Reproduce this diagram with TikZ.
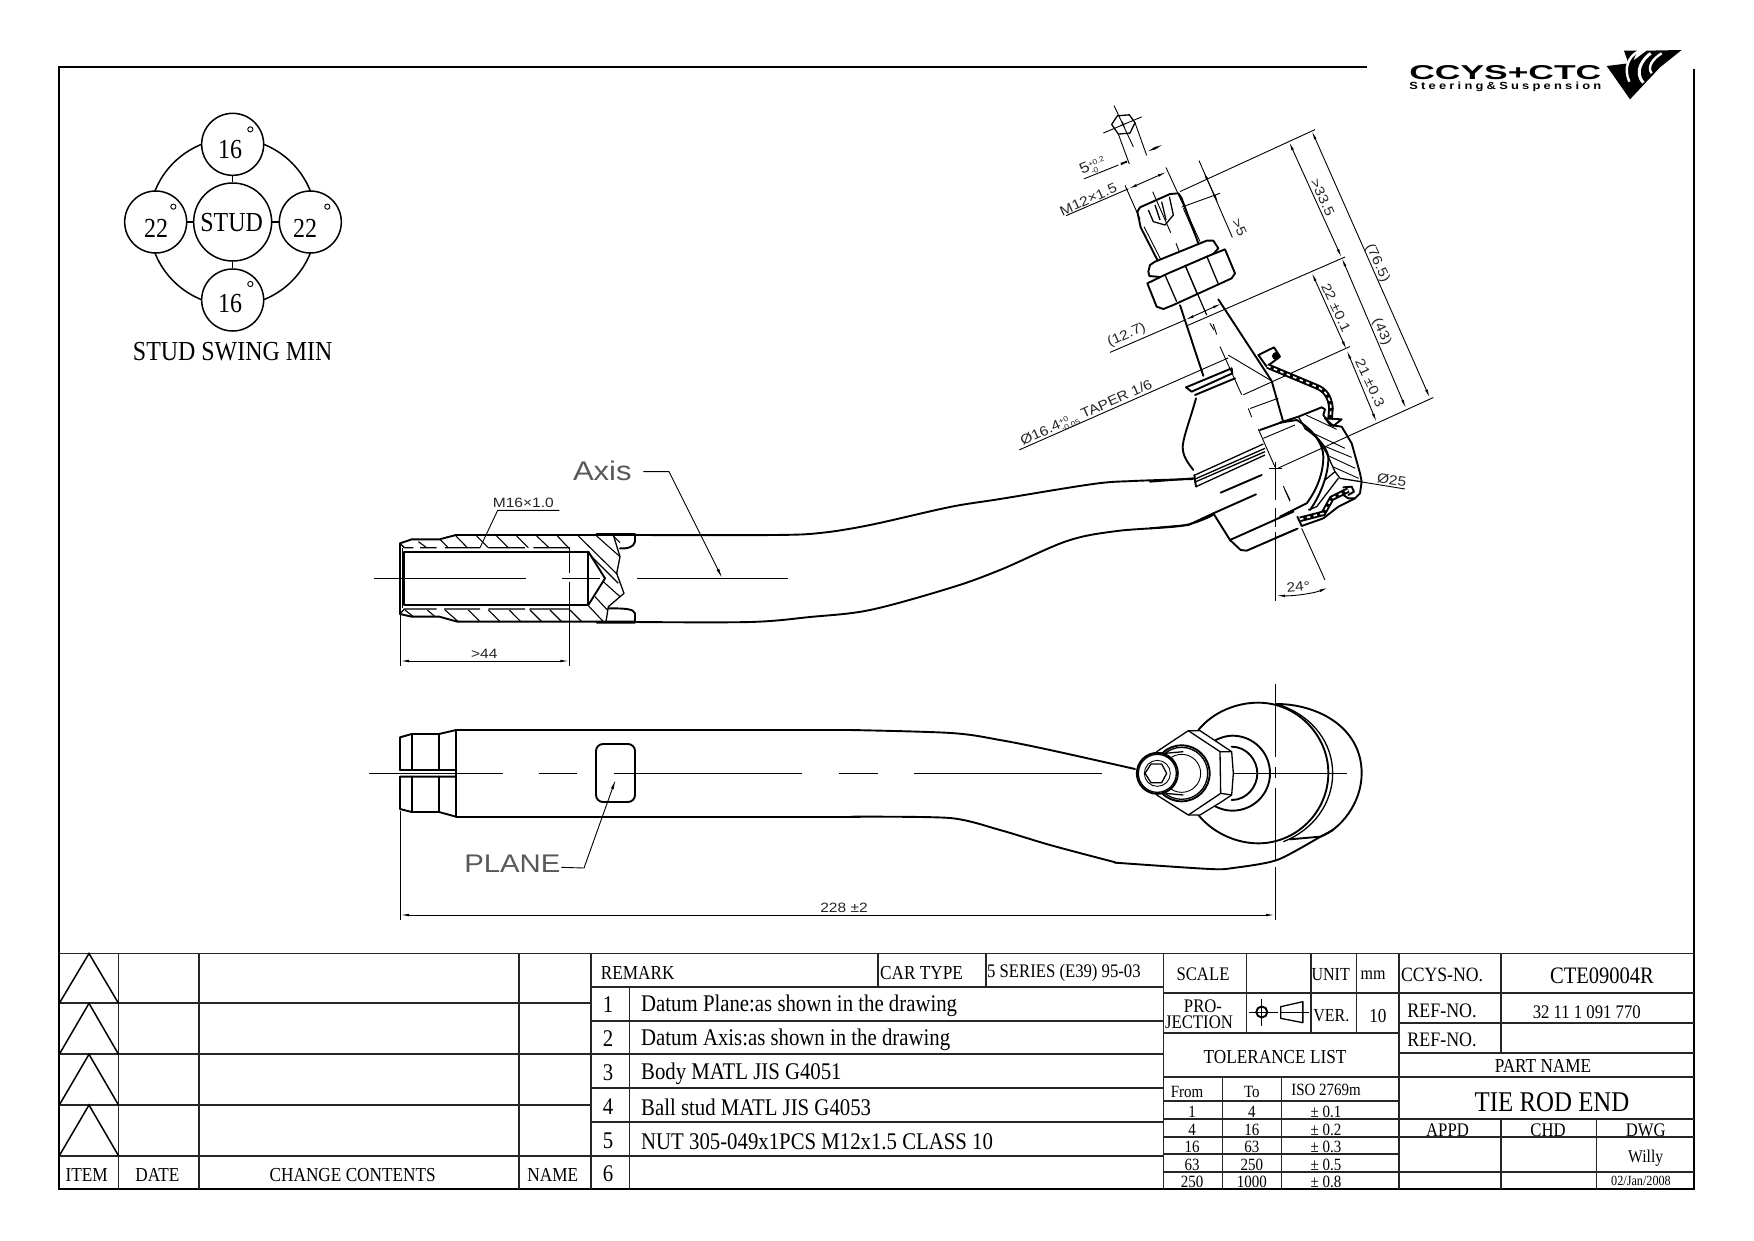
\documentclass[tikz,border=0pt]{standalone}
\usepackage{fontspec}
\usepackage{graphicx}
\setmainfont[FakeStretch=0.87]{Liberation Serif}
\newfontfamily\cad[FakeStretch=1.15]{Liberation Sans}
\newfontfamily\logofont[FakeStretch=1.2,LetterSpace=30]{Liberation Sans}
\usetikzlibrary{arrows.meta}
\newcommand{\tolstk}[2]{{\fontsize{7.5}{7.5}\selectfont\begin{tabular}[c]{@{}l@{}}#1\\#2\end{tabular}}}
\tikzset{
 thk/.style={line width=1.9pt,line join=round,line cap=round},
 mid/.style={line width=1.3pt,line join=round},
 thn/.style={line width=0.9pt},
 tbl/.style={line width=1.8pt,black!85},
 dim/.style={line width=0.9pt,arrows={Latex[length=9pt,width=2.6pt]-Latex[length=9pt,width=2.6pt]}},
 ldr/.style={line width=0.9pt,arrows={-Latex[length=10pt,width=3pt]}},
 lb/.style={inner sep=0pt,text=black!85,font=\cad\fontsize{13.5}{14}\selectfont},
 big/.style={inner sep=0pt,text=black!65,font=\cad\fontsize{27}{28}\selectfont},
 z1/.style={shift={(1000,90)},x=.33333pt,y=-.34435pt},
 z2/.style={shift={(370,440)},x=.33333pt,y=-.33333pt},
 z3/.style={shift={(360,690)},x=.33333pt,y=-.33333pt},
 z4/.style={shift={(1050,680)},x=.33333pt,y=-.33333pt},
 z7/.style={shift={(1160,950)},x=.35714pt,y=-.33333pt},
 z8/.style={shift={(1380,40)},x=.33333pt,y=-.33333pt},
 z9/.style={shift={(110,100)},x=.33333pt,y=-.33333pt},
 z10/.style={shift={(1150,340)},x=.33333pt,y=-.33333pt},
 zh/.style={shift={(1280,400)},x=.33333pt,y=-.33333pt},
 zs/.style={shift={(1120,170)},x=.33333pt,y=-.33333pt},
 ring/.style={draw,circle,line width=1.5pt,inner sep=0pt,fill=white},
 tx/.style={inner sep=0pt},
 fa/.style={tx,font=\fontsize{27.5}{28}\selectfont},
 fb/.style={tx,font=\fontsize{19.8}{20}\selectfont},
 fc/.style={tx,font=\fontsize{23.9}{24}\selectfont},
 fd/.style={tx,font=\fontsize{17.2}{18}\selectfont},
 fe/.style={tx,font=\fontsize{18.4}{19}\selectfont},
 ff/.style={tx,font=\fontsize{19.2}{20}\selectfont},
 stripes/.style={line width=1.6pt,white,dash pattern=on 3.5pt off 3.5pt},
}
\begin{document}
\begin{tikzpicture}[x=1pt,y=-1pt]
\useasboundingbox (0,0) rectangle (1754,1240);
% frame
\draw[line width=1.9pt] (1367,67) -- (59.3,67) -- (59.3,1189) -- (1694,1189) -- (1694,69);

% swing diagram
\begin{scope}[z9]
\node[ring,minimum size=167.3pt,fill=none] (outer) at (368,366) {};
\node[ring,minimum size=78pt] (stud) at (368,366) {};
\node[ring,minimum size=62pt] (ntop) at (368,133) {};
\node[ring,minimum size=62pt] (nbot) at (368,600) {};
\node[ring,minimum size=62pt] (nleft) at (137,366) {};
\node[ring,minimum size=62pt] (nright) at (601,366) {};
\draw[line width=1.5pt] (ntop) -- (stud);
\draw[line width=1.5pt] (nbot) -- (stud);
\draw[line width=1.5pt] (nleft) -- (stud);
\draw[line width=1.5pt] (nright) -- (stud);
\node[fa] (lstud) at (365,367) {STUD};
\node[fa] (l16a) at (360,150) {16};
\node[fa] (l16b) at (360,610) {16};
\node[fa] (l22a) at (138,385) {22};
\node[fa] (l22b) at (585,385) {22};
\foreach \p in {(421,88),(421,552),(190,320),(652,320)} \draw[line width=.9pt] \p circle (2.6pt);
\node[fa] (lswing) at (368,755) {STUD SWING MIN};
\end{scope}

% side view
\begin{scope}[z2]
\draw[thk] (795,285) -- (258,285) -- (208,298) -- (125,298) -- (90,310) -- (90,522) -- (125,530) -- (208,530) -- (262,545) -- (795,545);
\draw[thk] (680,282) -- (795,282) -- (795,305) .. controls (792,322) and (770,327) .. (750,325);
\draw[thk] (680,548) -- (795,548) -- (795,520) .. controls (790,507) and (770,505) .. (715,505);
\draw[mid] (730,285) -- (750,350) -- (740,400) -- (762,460) -- (715,500) -- (708,545);
\draw[thk] (103,335) rectangle (655,495);
\draw[thk] (655,335) -- (705,415) -- (655,495);
\draw[thn] (97,325) -- (97,505);
\draw[mid] (90,310) -- (103,323) -- (130,323) (150,323) -- (200,323) (225,323) -- (330,323) (355,323) -- (465,323) (490,323) -- (600,323);
\draw[mid] (90,522) -- (103,507) -- (200,507) (222,507) -- (330,507) (355,507) -- (465,507) (478,507) -- (600,507);
\foreach \a/\b/\c/\d in {145/305/170/323,210/298/235/323,258/288/292/323,320/288/355/323,380/288/415/323,440/288/475/323,500/288/537/323,562/288/600/328,625/288/742/403,680/288/750/350,730/288/750/308,660/345/745/430,700/425/750/470,675/470/712/510,655/497/700/545,105/510/130/530,172/510/195/530,225/510/265/545,295/510/330/545,355/510/390/545,418/510/452/545,480/510/515/545,540/510/575/545,600/510/635/545}
 \draw[line width=1.1pt] (\a,\b) -- (\c,\d);
\draw[thn] (12,415) -- (467,415) (577,415) -- (690,415) (802,415) -- (1255,415);
\draw[thn] (90,525) -- (90,678) (598,325) -- (598,400) (598,425) -- (598,678);
\draw[dim] (90,663) -- (598,663);
\node[lb] (d44) at (343,643) {>44};
\node[lb] (m16) at (460,190) {M16×1.0};
\coordinate (m16e) at (568,211);
\coordinate (m16k) at (383,211);
\draw[thn] (m16e) -- (m16k) -- (330,323);
\node[big] (axis) at (697,93) {Axis};
\coordinate (axk) at (897,95);
\draw[ldr] (820,95) -- (axk) -- (1057,415);
\end{scope}

% arm in side view
\draw[thk] plot[smooth,tension=.55] coordinates {(635,535) (773,535) (820,533) (870,525) (950,507) (1000,499) (1093,484) (1133,481) (1193,479)};
\draw[thk] plot[smooth,tension=.55] coordinates {(635,622) (750,622) (810,617) (870,610) (950,588) (1000,570) (1067,541) (1117,531) (1183,525.6) (1213,515)};

% joint upper part: dimensions
\begin{scope}[z1]
\draw[mid] (335,100) -- (352,75) -- (388,72) -- (405,95) -- (390,125) -- (355,128) -- cycle;
\draw[thn] (310,125) -- (425,78) (342,45) -- (400,165) (362,103) -- (378,97) (367,92) -- (373,108);
\draw[thn] (355,128) -- (388,215) (405,95) -- (440,190);
\draw[thn] (252,258) -- (355,218);
\draw[dim] (355,218) -- (388,205);
\draw[dim] (490,158) -- (440,180);
\node[lb,rotate=24,font=\cad\fontsize{15}{16}\selectfont] (d5) at (280,225) {5\tolstk{+0.2}{-0}};
\draw[thn] (198,365) -- (385,287);
\draw[dim] (385,287) -- (500,238);
\node[lb,rotate=24] (m12) at (265,318) {M12×1.5};
\draw[thn] (375,277) -- (420,375) (498,225) -- (600,440);
\draw[thn] (540,295) -- (945,115);
\draw[thn] (597,205) -- (697,428);
\draw[dim] (610,235) -- (655,330);
\draw[thn] (545,340) -- (660,300);
\node[lb,rotate=-65] (d5b) at (718,400) {>5};
\draw[dim] (867,150) -- (1025,487);
\draw[dim] (1025,487) -- (1218,925);
\draw[dim] (935,118) -- (1290,895);
\node[lb,rotate=-65] (d335) at (968,312) {>33.5};
\node[lb,rotate=-65] (d765) at (1132,503) {(76.5)};
\node[lb,rotate=-65] (d43) at (1145,702) {(43)};
\draw[dim] (935,530) -- (1040,755);
\draw[dim] (1040,755) -- (1130,965);
\node[lb,rotate=-65] (d22) at (1008,632) {22 ±0.1};
\node[lb,rotate=-65] (d21) at (1110,850) {21 ±0.3};
\draw[thn] (560,685) -- (1035,485);
\draw[thn] (330,762) -- (555,668);
\draw[dim] (555,668) -- (665,620);
\node[lb,rotate=24] (d127) at (380,712) {(12.7)};
\draw[thn] (730,885) -- (1050,745);
\draw[thn] (58,1045) -- (685,778);
\node[lb,rotate=24] (d164) at (262,943) {Ø16.4\tolstk{+0}{-0.05} TAPER 1/6};
\draw[thn] (830,1100) -- (1300,893);
\draw[thn] (660,745) -- (725,885) (745,925) -- (755,950) (775,985) -- (825,1095) (850,1150) -- (870,1195) (640,680) -- (650,710);
\draw[thk] (655,608) -- (815,845) -- (850,965);
\draw[thn] (685,770) -- (815,845);
\draw[thn] (750,925) -- (835,895);
\draw[thk] (540,625) -- (610,830);
\end{scope}

% stud and nut
\begin{scope}[zs]
\draw[thk] (52,125) -- (60,112) -- (150,72) -- (175,70) -- (185,85) -- (235,220);
\draw[thk] (52,125) -- (62,172) -- (112,270);
\draw[thn] (72,170) -- (122,268) (190,115) -- (225,195);
\draw[mid] (85,120) -- (100,155) -- (135,165) -- (160,135) -- (148,80);
\draw[mid] (105,105) -- (120,150) (125,95) -- (138,150);
\draw[thn] (98,65) -- (152,188) (168,220) -- (180,250) (195,285) -- (260,435) (270,460) -- (282,480);
\draw[thk,fill=white] (85,305) -- (90,285) -- (105,275) -- (260,212) -- (280,212) -- (295,235) -- (280,252) -- (130,322) -- (88,318) -- cycle;
\draw[thk,fill=white] (82,340) -- (140,312) -- (265,258) -- (315,238) -- (345,310) -- (335,325) -- (160,405) -- (130,417) -- (110,410) -- cycle;
\draw[mid] (135,315) -- (170,395) (195,285) -- (232,372) (260,258) -- (295,342);
\draw[thn] (195,285) -- (260,435);
\end{scope}

% joint lower part
\begin{scope}[z10]
\draw[thk] (108,142) -- (245,85) -- (247,100) -- (125,155) -- cycle;
\draw[thk] (135,165) -- (255,115);
\draw[thk] (138,175) .. controls (120,240) and (100,290) .. (98,320) .. controls (98,350) and (115,370) .. (130,390);
\draw[mid] (135,405) -- (340,312) (133,418) -- (345,325) (133,427) -- (345,335) (138,440) -- (345,345);
\draw[thk] (133,405) -- (138,440);
\draw[thk] (0,425) -- (130,415);
% cover
\draw[thk] (325,45) -- (372,22) -- (390,50) -- (350,80) -- cycle;
\fill (378,48) circle (4pt);
\draw[line width=5.5pt] (352,78) -- (500,140) .. controls (525,150) and (540,170) .. (543,205) -- (540,238);
\draw[stripes] (352,78) -- (500,140) .. controls (525,150) and (540,170) .. (543,205) -- (540,238);
\draw[thk] (525,235) -- (575,238) -- (550,258) -- cycle;
\draw[thk] (330,270) -- (400,245);
\draw[thn] (340,295) -- (435,255);
% body below
\draw[thk] (0,565) -- (115,555) -- (190,520) -- (240,600) -- (272,630) -- (290,632) -- (440,567);
\draw[thk] (240,600) -- (430,515);
\draw[mid] (378,593) -- (445,565);
\draw[thk] (212,458) -- (335,405);
\draw[thk] (190,520) -- (318,463);
% centres
\draw[thn] (357,385) -- (395,385) (377,365) -- (377,480) (377,505) -- (377,560) (377,575) -- (377,720);
\draw[thn] (405,450) -- (420,480);
\draw[thn] (455,565) -- (525,720);
\draw[thn] (630,425) -- (765,447);
\node[lb,rotate=-8] (d25) at (725,420) {Ø25};
\end{scope}

% housing section
\begin{scope}[zh]
\draw[thk] (0,68) -- (55,50) -- (125,22) -- (135,28) -- (130,45) -- (150,75) -- (185,80) -- (215,130) -- (240,220) -- (245,245) -- (240,280) -- (225,295) -- (175,320) -- (130,355) -- (65,378) -- (52,350);
\draw[mid] (55,50) -- (75,85) -- (110,110) -- (140,160) -- (165,215) -- (180,235) -- (243,245);
\foreach \a/\b/\c/\d in {78/45/170/88,100/100/195/145,125/135/215/172,140/165/226/205,158/200/236/235}
  \draw[thn] (\a,\b) -- (\c,\d);
\draw[thk] (0,68) -- (50,60) .. controls (95,85) and (130,130) .. (130,170) .. controls (130,220) and (110,270) .. (80,310) -- (0,350);
\draw[thk] (75,85) .. controls (120,115) and (145,150) .. (145,175) .. controls (145,220) and (125,280) .. (90,330);
\draw[mid] (135,240) -- (165,215) (85,330) -- (110,320) -- (175,235);
\draw[line width=5.5pt] (60,358) -- (130,340) -- (155,295) -- (205,270);
\draw[stripes] (60,358) -- (130,340) -- (155,295) -- (205,270);
\draw[thk] (190,262) -- (215,260) -- (222,275) -- (205,285) (225,295) -- (205,295) -- (190,285);
\end{scope}
\begin{scope}[z1]
\draw[thn] (825,1300) -- (825,1485);
\draw[dim] (828,1468) .. controls (880,1470) and (940,1462) .. (985,1445);
\node[lb,rotate=6] (d24) at (895,1443) {24°};
\end{scope}

% plan view
\begin{scope}[z3]
\draw[thk] (288,120) -- (1500,120) (288,380) -- (1500,380);
\draw[thk] (120,240) -- (120,142) -- (155,132) -- (237,132) -- (288,120) -- (288,380) -- (237,366) -- (155,366) -- (120,357) -- (120,260) -- (288,260);
\draw[thk] (120,240) -- (288,240);
\draw[thk] (155,132) -- (155,240) (155,260) -- (155,366) (237,132) -- (237,240) (237,260) -- (237,366);
\draw[thn] (28,249) -- (428,249) (537,249) -- (652,249) (762,249) -- (1327,249) (1437,249) -- (1555,249);
\draw[thk,rounded corners=7pt] (708,162) rectangle (825,336);
\node[big,font=\cad\fontsize{25.5}{26}\selectfont] (plane) at (457,522) {PLANE};
\coordinate (plk) at (672,534);
\draw[ldr] (plane.east) ++(2,10) -- (plk) -- (767,268);
\draw[thn] (120,362) -- (120,690);
\node[lb] (d228) at (1452,655) {228 ±2};
\end{scope}
\draw[dim] (400,915) -- (1275,915);
\begin{scope}[z4]
\draw[thn] (676,12) -- (676,230) (676,262) -- (676,295) (676,325) -- (676,540) (676,562) -- (676,720);
\draw[thn] (492,279) -- (890,279);
\draw[thk] (445,150) .. controls (490,95) and (560,68) .. (625,68) .. controls (740,68) and (835,165) .. (835,279) .. controls (835,395) and (740,490) .. (625,490) .. controls (560,490) and (490,460) .. (445,405);
\draw[thk] (680,72) .. controls (800,72) and (935,140) .. (935,280) .. controls (935,370) and (870,450) .. (810,470) -- (720,478);
\draw[mid] (690,75) .. controls (790,110) and (848,190) .. (848,280) .. controls (848,370) and (790,450) .. (700,485);
\draw[thk] (497,180) .. controls (515,172) and (530,167) .. (547,167) .. controls (610,167) and (660,217) .. (660,280) .. controls (660,342) and (610,392) .. (547,392) .. controls (530,392) and (515,388) .. (497,380);
\draw[thk] (545,200) .. controls (590,200) and (622,240) .. (622,280) .. controls (622,320) and (590,360) .. (545,360);
\draw[mid,fill=white] (320,215) -- (415,152) -- (450,152) -- (515,195) -- (545,215) -- (550,280) -- (545,345) -- (515,365) -- (450,405) -- (415,405) -- (320,345) -- cycle;
\draw[mid] (415,152) -- (510,215) -- (512,340) -- (415,405) (510,215) -- (545,215) (512,340) -- (545,345);
\draw[thk] (395,280) circle (28pt);
\draw[mid] (395,280) circle (26pt);
\draw[thn] (395,280) circle (19pt);
\draw[mid] (345,220) -- (400,215) (345,340) -- (400,345);
\draw[thk,fill=white] (322,280) circle (20.5pt);
\draw[mid] (322,280) circle (19pt);
\draw[thn] (322,280) circle (13pt);
\draw[mid] (285,280) -- (303,252) -- (335,252) -- (350,280) -- (335,308) -- (303,308) -- cycle;
\draw[thn] (0,279) -- (155,279);
\end{scope}
\draw[thk] plot[smooth,tension=.55] coordinates {(850,730) (951,733) (1000,740) (1050,750) (1135,769)};
\draw[thk] plot[smooth,tension=.45] coordinates {(850,816.7) (950,818) (1000,830) (1050,845) (1113,861.7) (1120,863) (1210,869) (1233,868) (1277,860) (1320,837) (1333,830)};
\draw[thn] (914,773) -- (1050,773);
\draw[thn] (839,773) -- (878,773);

% title block
\foreach \y in {1003.3,1054.3,1105,1155.7} \draw[tbl] (59.3,\y) -- (591,\y);
\draw[tbl] (59.3,953.5) -- (1694,953.5);
\foreach \x in {118.5,198.8,519.1,591} \draw[tbl] (\x,953.5) -- (\x,1189);
\foreach \a/\b in {953.5/1003.3,1003.3/1054.3,1054.3/1105,1105/1155.7}
 \draw[line width=1.5pt] (59.3,\b) -- (89,\a) -- (118.5,\b);
\foreach \y in {986.7,1020.7,1054.3,1088.3,1122.3,1155.7} \draw[tbl] (591,\y) -- (1163.5,\y);
\draw[tbl] (629.4,986.7) -- (629.4,1189) (877.8,953.5) -- (877.8,986.7) (986,953.5) -- (986,986.7) (1163.5,953.5) -- (1163.5,1189);
% right part
\draw[tbl] (1163.5,992.7) -- (1694,992.7) (1163.5,1032.7) -- (1399.3,1032.7) (1163.5,1076.7) -- (1694,1076.7);
\draw[tbl] (1399.3,1023.3) -- (1694,1023.3) (1399.3,1053.3) -- (1694,1053.3) (1163.5,1100.7) -- (1399.3,1100.7) (1163.5,1119) -- (1694,1119) (1163.5,1136.7) -- (1694,1136.7) (1163.5,1154) -- (1399.3,1154) (1163.5,1171.7) -- (1694,1171.7);
\draw[tbl] (1246.4,953.5) -- (1246.4,1032.7) (1310.7,953.5) -- (1310.7,1032.7) (1356.4,953.5) -- (1356.4,1032.7) (1399.3,953.5) -- (1399.3,1189) (1501,953.5) -- (1501,1053.3) (1222.5,1076.7) -- (1222.5,1189) (1281.4,1076.7) -- (1281.4,1189) (1501,1119) -- (1501,1189) (1596.4,1119) -- (1596.4,1189);
% projection symbol
\begin{scope}[z7]
\draw[thk] (285,186) circle (5.5pt);
\draw[thn] (248,186) -- (330,186) (285,148) -- (285,228) (338,186) -- (418,186);
\draw[mid] (338,170) -- (400,155) -- (400,218) -- (338,205) -- cycle;
\end{scope}
% table texts
\node[fb] (item) at (86.7,1175) {ITEM};
\node[fb] (date) at (157.5,1175) {DATE};
\node[fb] (chg) at (352.7,1175) {CHANGE CONTENTS};
\node[fb] (name) at (552.8,1175) {NAME};
\node[fb,anchor=west] (rem) at (600.7,973) {REMARK};
\node[fb,anchor=west] (car) at (880,973) {CAR TYPE};
\node[ff,anchor=west] (ser) at (986.9,973) {5 SERIES (E39) 95-03};
\node[fc] (n1) at (608,1005) {1};
\node[fc] (n2) at (608,1039) {2};
\node[fc] (n3) at (608,1073) {3};
\node[fc] (n4) at (608,1106.7) {4};
\node[fc] (n5) at (608,1140.7) {5};
\node[fc] (n6) at (608,1174) {6};
\node[fc,anchor=west] (r1) at (641,1005.5) {Datum Plane:as shown in the drawing};
\node[fc,anchor=west] (r2) at (641,1039.5) {Datum Axis:as shown in the drawing};
\node[fc,anchor=west] (r3) at (641,1073.5) {Body MATL JIS G4051};
\node[fc,anchor=west] (r4) at (641,1107.5) {Ball stud MATL JIS G4053};
\node[fc,anchor=west] (r5) at (641,1141.5) {NUT 305-049x1PCS M12x1.5 CLASS 10};
\node[ff] (scale) at (1203,974.5) {SCALE};
\node[fe] (unit) at (1330.7,974.5) {UNIT};
\node[fe] (mm) at (1373,975.5) {mm};
\node[ff] (pro) at (1203,1006.7) {PRO-};
\node[ff] (jec) at (1199,1022.7) {JECTION};
\node[fe] (ver) at (1331.4,1016) {VER.};
\node[fb] (ten) at (1377.9,1015.5) {10};
\node[fb] (tol) at (1275,1056.7) {TOLERANCE LIST};
\node[fd] (from) at (1187,1092) {From};
\node[fd] (tto) at (1251.8,1092) {To};
\node[fd] (iso) at (1326,1090) {ISO 2769m};
\node[fd] (a1) at (1192,1112) {1};
\node[fd] (b1) at (1251.8,1112) {4};
\node[fd] (c1) at (1326,1112) {± 0.1};
\node[fd] (a2) at (1192,1129.5) {4};
\node[fd] (b2) at (1251.8,1129.5) {16};
\node[fd] (c2) at (1326,1129.5) {± 0.2};
\node[fd] (a3) at (1192,1147) {16};
\node[fd] (b3) at (1251.8,1147) {63};
\node[fd] (c3) at (1326,1147) {± 0.3};
\node[fd] (a4) at (1192,1164.5) {63};
\node[fd] (b4) at (1251.8,1164.5) {250};
\node[fd] (c4) at (1326,1164.5) {± 0.5};
\node[fd] (a5) at (1192,1182) {250};
\node[fd] (b5) at (1251.8,1182) {1000};
\node[fd] (c5) at (1326,1182) {± 0.8};
\node[tx,font=\fontsize{20.3}{21}\selectfont] (ccys) at (1442,974.5) {CCYS-NO.};
\node[tx,font=\fontsize{23.6}{24}\selectfont] (cte) at (1602,976) {CTE09004R};
\node[tx,font=\fontsize{20.6}{21}\selectfont] (ref1) at (1442,1010.7) {REF-NO.};
\node[tx,font=\fontsize{20.6}{21}\selectfont] (ref2) at (1442,1039.5) {REF-NO.};
\node[ff] (refv) at (1586.8,1011.7) {32 11 1 091 770};
\node[fb] (part) at (1543,1066) {PART NAME};
\node[tx,font=\fontsize{28.6}{29}\selectfont] (tie) at (1552,1102) {TIE ROD END};
\node[ff] (appd) at (1447.5,1130.5) {APPD};
\node[ff] (chd) at (1548,1130.5) {CHD};
\node[ff] (dwg) at (1645.7,1130.5) {DWG};
\node[tx,font=\fontsize{18}{19}\selectfont] (willy) at (1645.7,1158) {Willy};
\node[tx,font=\fontsize{14}{15}\selectfont] (ddate) at (1641,1180.7) {02/Jan/2008};

% logo
\begin{scope}[z8]
\node[tx] (logo1) at (376,97) {\resizebox{192pt}{14pt}{\cad\bfseries CCYS+CTC}};
\node[tx] (logo2) at (376,142) {\resizebox{192pt}{7.5pt}{\logofont\bfseries Steering\&Suspension}};
\fill (680,78) -- (745,70) -- (732,32) -- (772,32) -- (760,62) -- (800,32) -- (905,30) -- (840,82) -- (750,178) -- cycle;
\draw[white,line width=2.4pt] (748,125) .. controls (730,85) and (745,50) .. (775,34);
\draw[white,line width=3pt] (790,128) .. controls (760,95) and (790,55) .. (812,40);
\draw[white,line width=2.4pt] (815,100) .. controls (800,80) and (820,55) .. (845,40);
\end{scope}
\end{tikzpicture}
\end{document}
